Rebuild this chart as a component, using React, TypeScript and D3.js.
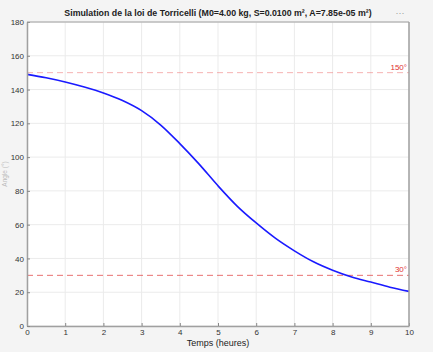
import React, { useEffect, useRef } from 'react'
import * as d3 from 'd3'

// temps (heures) et angle simulé
const times = [0, 0.5, 1, 1.5, 2, 2.5, 3, 3.5, 4, 4.5, 5, 5.5, 6, 6.5, 7, 7.5, 8, 8.5, 9, 9.5, 10]
const angles = [149, 147, 144.5, 141.5, 138, 133.5, 127.5, 119, 108, 96, 83, 71, 61, 52, 44.5, 38, 33, 29, 26, 23, 20.5]
const xTicks = [0, 1, 2, 3, 4, 5, 6, 7, 8, 9, 10]
const yTicks = [0, 20, 40, 60, 80, 100, 120, 140, 160, 180]
const refLines = [
  { value: 150, label: '150°', color: '#f08080', opacity: 0.6 },
  { value: 30, label: '30°', color: '#e04040', opacity: 0.75 },
]
const title = 'Simulation de la loi de Torricelli (M0=4.00 kg, S=0.0100 m², A=7.85e-05 m²)'

const W = 433, H = 352
const margin = { top: 22, right: 24, bottom: 26, left: 27 }

export default function App() {
  const ref = useRef<SVGSVGElement>(null)

  useEffect(() => {
    const svg = d3.select(ref.current)
    svg.selectAll('*').remove()
    const font = 'Liberation Sans, Arial, sans-serif'

    svg.append('rect').attr('width', W).attr('height', H).attr('fill', '#f4f4f4')

    const x = d3.scaleLinear().domain([0, 10]).range([margin.left, W - margin.right])
    const y = d3.scaleLinear().domain([0, 180]).range([H - margin.bottom, margin.top])

    svg.append('rect')
      .attr('x', x(0)).attr('y', y(180))
      .attr('width', x(10) - x(0)).attr('height', y(0) - y(180))
      .attr('fill', '#fff')

    // grille
    svg.append('g').selectAll('line').data(xTicks).join('line')
      .attr('x1', d => x(d)).attr('x2', d => x(d))
      .attr('y1', y(0)).attr('y2', y(180))
      .attr('stroke', '#ebebeb').attr('stroke-width', 1)
    svg.append('g').selectAll('line').data(yTicks).join('line')
      .attr('x1', x(0)).attr('x2', x(10))
      .attr('y1', d => y(d)).attr('y2', d => y(d))
      .attr('stroke', '#ebebeb').attr('stroke-width', 1)

    // lignes de référence
    refLines.forEach(r => {
      svg.append('line')
        .attr('x1', x(0)).attr('x2', x(10))
        .attr('y1', y(r.value)).attr('y2', y(r.value))
        .attr('stroke', r.color).attr('stroke-opacity', r.opacity)
        .attr('stroke-width', 1).attr('stroke-dasharray', '6,4')
      svg.append('text')
        .attr('x', x(10) - 2).attr('y', y(r.value) - 3)
        .attr('text-anchor', 'end')
        .attr('font-family', font).attr('font-size', 8)
        .attr('fill', '#e03030')
        .text(r.label)
    })

    // courbe
    const line = d3.line<number>()
      .x((_, i) => x(times[i]))
      .y(d => y(d))
      .curve(d3.curveMonotoneX)
    svg.append('path')
      .datum(angles)
      .attr('d', line)
      .attr('fill', 'none')
      .attr('stroke', '#1a1aff')
      .attr('stroke-width', 1.6)

    // axes
    const xAxis = svg.append('g')
      .attr('transform', `translate(0,${y(0)})`)
      .call(d3.axisBottom(x).tickValues(xTicks).tickSize(-3).tickPadding(3).tickSizeOuter(0))
    const yAxis = svg.append('g')
      .attr('transform', `translate(${x(0)},0)`)
      .call(d3.axisLeft(y).tickValues(yTicks).tickSize(-3).tickPadding(3).tickSizeOuter(0))
    ;[xAxis, yAxis].forEach(g => {
      g.select('.domain').attr('stroke', '#a0a0a0').attr('stroke-width', 1.5)
      g.selectAll('.tick line').attr('stroke', '#888')
      g.selectAll('.tick text').attr('fill', '#333').attr('font-family', font).attr('font-size', 8)
    })

    // bords haut / droite
    svg.append('line')
      .attr('x1', x(0)).attr('x2', x(10)).attr('y1', y(180)).attr('y2', y(180))
      .attr('stroke', '#a0a0a0').attr('stroke-width', 1)
    svg.append('line')
      .attr('x1', x(10)).attr('x2', x(10)).attr('y1', y(180)).attr('y2', y(0))
      .attr('stroke', '#a0a0a0').attr('stroke-width', 1.5)

    // titres
    svg.append('text')
      .attr('x', (x(0) + x(10)) / 2).attr('y', 16)
      .attr('text-anchor', 'middle')
      .attr('font-family', font).attr('font-size', 8.8).attr('font-weight', 'bold')
      .attr('fill', '#222')
      .text(title)
    svg.append('text')
      .attr('x', 400).attr('y', 16)
      .attr('text-anchor', 'middle')
      .attr('font-family', font).attr('font-size', 9)
      .attr('fill', '#999')
      .text('···')
    svg.append('text')
      .attr('x', (x(0) + x(10)) / 2).attr('y', H - 6)
      .attr('text-anchor', 'middle')
      .attr('font-family', font).attr('font-size', 9)
      .attr('fill', '#222')
      .text('Temps (heures)')
    svg.append('text')
      .attr('transform', `translate(7,${(y(0) + y(180)) / 2}) rotate(-90)`)
      .attr('text-anchor', 'middle')
      .attr('font-family', font).attr('font-size', 6.5)
      .attr('fill', '#bbb')
      .text('Angle (°)')
  }, [])

  return (
    <svg ref={ref} width={W} height={H} style={{ position: 'absolute', left: 0, top: 0, display: 'block' }} />
  )
}
